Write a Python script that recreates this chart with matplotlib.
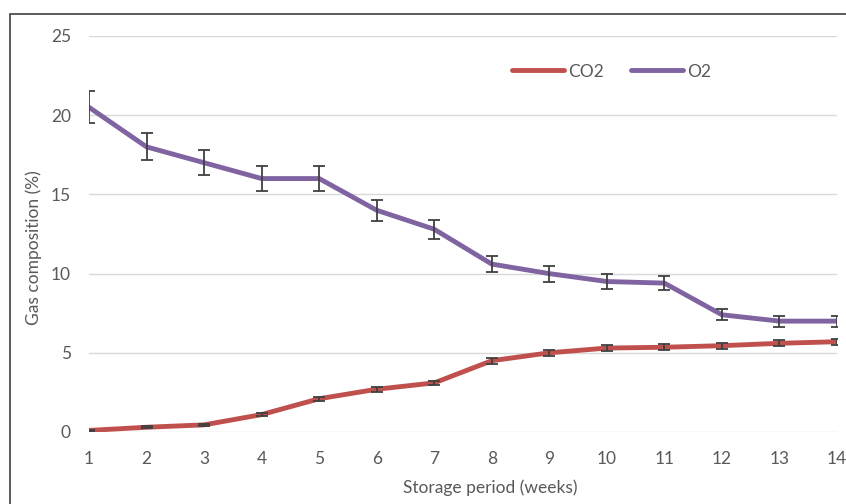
import numpy as np
import matplotlib.pyplot as plt
from matplotlib.patches import Rectangle

weeks = np.arange(1, 15)
o2 = [20.5, 18.0, 17.0, 16.0, 16.0, 14.0, 12.8, 10.6, 10.0, 9.5, 9.4, 7.4, 7.0, 7.0]
o2_err = [1.0, 0.85, 0.8, 0.8, 0.8, 0.65, 0.6, 0.5, 0.5, 0.45, 0.45, 0.35, 0.35, 0.35]
co2 = [0.1, 0.3, 0.45, 1.1, 2.1, 2.7, 3.1, 4.5, 5.0, 5.3, 5.35, 5.45, 5.6, 5.7]
co2_err = [0.05, 0.05, 0.08, 0.1, 0.12, 0.15, 0.15, 0.2, 0.2, 0.2, 0.2, 0.2, 0.2, 0.2]

plt.rcParams['font.family'] = ['Lato', 'DejaVu Sans']
txt = '#595959'

fig = plt.figure(figsize=(8.46, 5.04), dpi=100)
ax = fig.add_axes([89/846, 1-432/504, (837-89)/846, (432-36)/504])

# outer frame (cut off at right and bottom like the reference)
fig.patches.append(Rectangle((10/846, -0.1), 1.2, 1-14/504+0.1, transform=fig.transFigure,
                             fill=False, edgecolor='#404040', linewidth=1.2))

ax.plot(weeks, co2, color='#C0504D', lw=3.5, label='CO2', solid_capstyle='round', zorder=3)
ax.plot(weeks, o2, color='#8064A2', lw=3.5, label='O2', solid_capstyle='round', zorder=3)
ax.errorbar(weeks, co2, yerr=co2_err, fmt='none', ecolor='#404040', elinewidth=1.3,
            capsize=4, capthick=1.3, zorder=4)
ax.errorbar(weeks, o2, yerr=o2_err, fmt='none', ecolor='#404040', elinewidth=1.3,
            capsize=4, capthick=1.3, zorder=4)

ax.set_xlim(1, 14)
ax.set_ylim(0, 25)
ax.set_xticks(weeks)
ax.set_yticks(np.arange(0, 26, 5))
ax.grid(axis='y', color='#D9D9D9', lw=1)
ax.set_axisbelow(True)
for s in ax.spines.values():
    s.set_visible(False)
ax.tick_params(length=0, labelsize=12.5, colors=txt)
ax.tick_params(axis='y', pad=13)
ax.tick_params(axis='x', pad=14)
ax.set_xlabel('Storage period (weeks)', fontsize=12.5, color=txt)
ax.set_ylabel('Gas composition (%)', fontsize=12.5, color=txt)
ax.xaxis.set_label_coords((490-89)/748, -(479-432)/396)
ax.yaxis.set_label_coords(-(89-42)/748, (432-248)/396)

ax.legend(loc='upper left', bbox_to_anchor=(0.545, 0.97), ncol=2, frameon=False,
          fontsize=12.5, labelcolor=txt, handlelength=3.0, handletextpad=0.2,
          columnspacing=1.6)

fig.savefig('out.png', dpi=100)
